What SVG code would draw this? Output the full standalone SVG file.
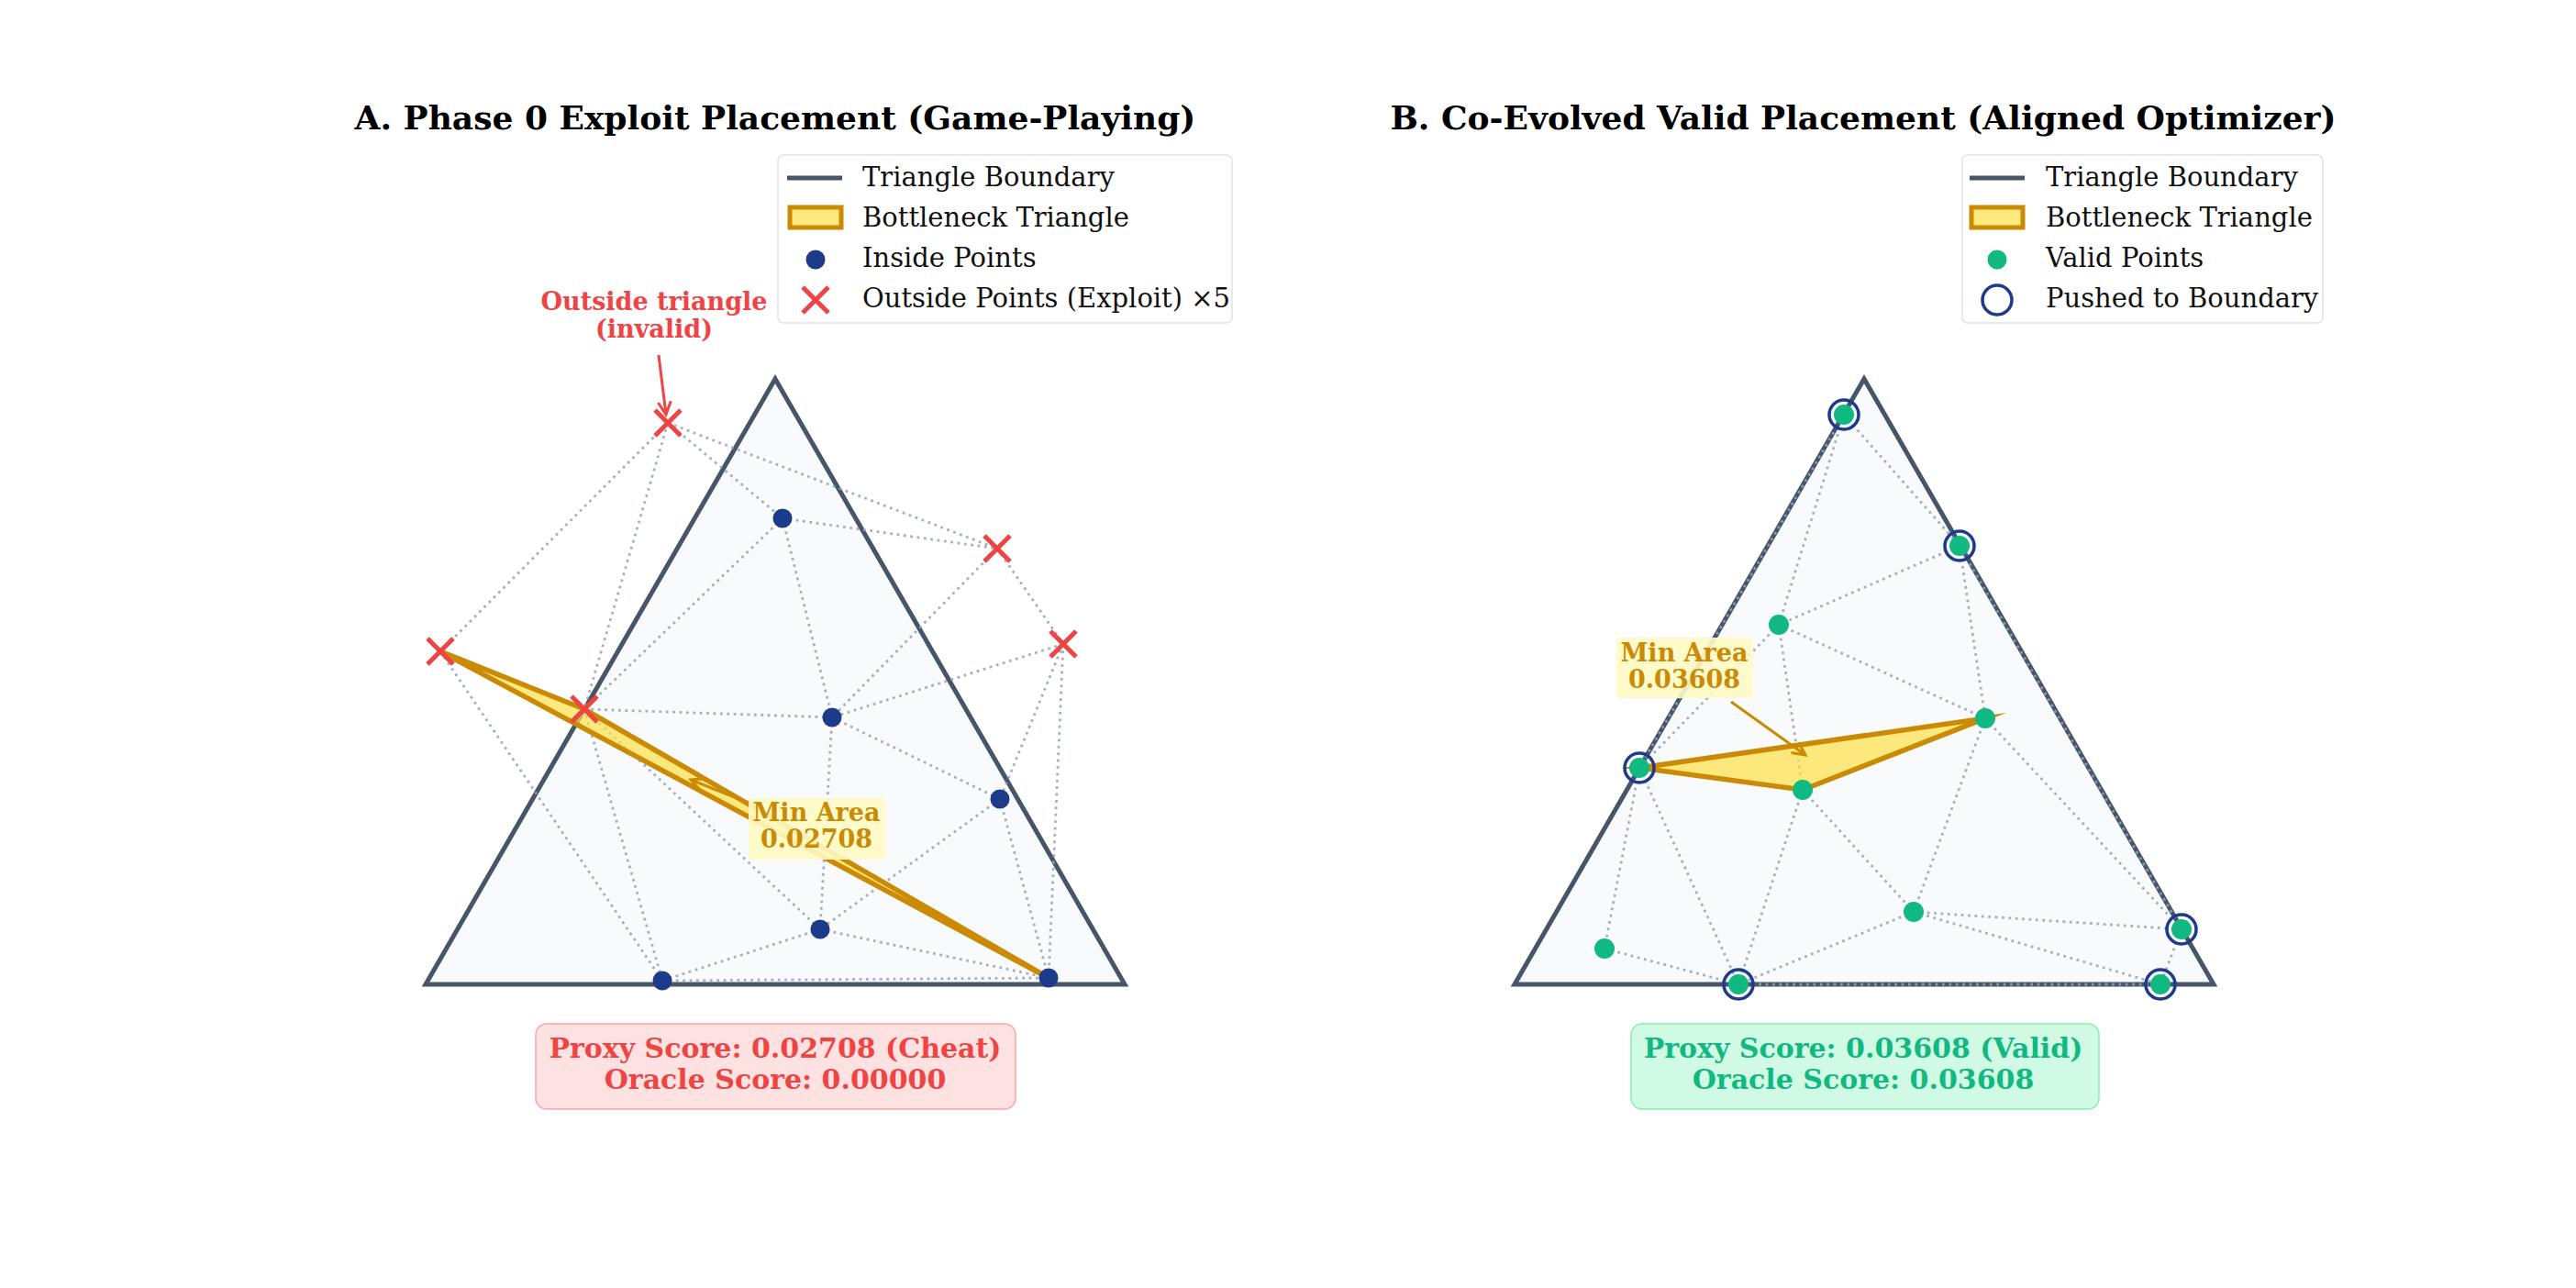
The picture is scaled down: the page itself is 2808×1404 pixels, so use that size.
<svg xmlns="http://www.w3.org/2000/svg" width="2808" height="1404" viewBox="0 0 2808 1404">
<style>
text{font-family:"DejaVu Serif","Liberation Serif",serif;}
.title{font-size:36px;font-weight:bold;fill:#000;text-anchor:middle;}
.leg{font-size:29px;fill:#111;}
.tri{fill:#f8fafc;stroke:#475569;stroke-width:5;stroke-linejoin:miter;}
.edge{stroke:#94a3b8;stroke-opacity:0.85;stroke-width:2.8;stroke-dasharray:2.8 4.6;fill:none;}
.bottle{fill:#fde047;fill-opacity:0.7;stroke:#ca8a04;stroke-width:5.5;stroke-linejoin:miter;stroke-miterlimit:10;}
.inside{fill:#1e3a8a;}
.valid{fill:#10b981;}
.ring{fill:none;stroke:#1e3a8a;stroke-width:3.5;}
.xm{stroke:#ef4444;stroke-width:5;fill:none;}
.lab{fill:#fef9c3;fill-opacity:0.9;}
.labt{font-size:27px;font-weight:bold;fill:#ca8a04;text-anchor:middle;}
.arr{stroke:#ca8a04;stroke-width:3;fill:none;}
.score{font-size:30px;font-weight:bold;text-anchor:middle;}
</style>
<defs>
<path id="xmark" class="xm" d="M-14,-14L14,14M-14,14L14,-14"/>
</defs>
<rect width="2808" height="1404" fill="#ffffff"/>

<!-- Panel A -->
<text class="title" x="845" y="141">A. Phase 0 Exploit Placement (Game-Playing)</text>
<g id="boundaryA"><polygon class="tri" points="464,1073 1226,1073 845,413"/></g>
<g id="connectorsA">
<path class="edge" d="M728,461L480,710M728,461L637,773M728,461L853,565M728,461L1087,598M853,565L1087,598M853,565L637,773M853,565L907,782M1087,598L907,782M1087,598L1159,702M1159,702L907,782M1159,702L1090,871M1159,702L1143,1066M637,773L907,782M480,710L637,773M480,710L722,1069M637,773L722,1069M637,773L894,1013M907,782L1090,871M907,782L894,1013M1090,871L894,1013M1090,871L1143,1066M894,1013L722,1069M894,1013L1143,1066M722,1069L1143,1066"/>
</g>
<g id="bottleneckA"><polygon class="bottle" points="480,710 637,773 1143,1066"/></g>
<g id="minAreaA">
<path class="arr" d="M816,875L753,850M768.6,848.7L753,850L763.4,861.7"/>
<rect class="lab" x="816" y="870" width="149" height="67" rx="4"/>
<text class="labt" x="890" y="895">Min Area</text>
<text class="labt" x="890" y="924">0.02708</text>
</g>
<g id="insidePointsA">
<circle class="inside" cx="853" cy="565" r="10.5"/>
<circle class="inside" cx="907" cy="782" r="10.5"/>
<circle class="inside" cx="1090" cy="871" r="10.5"/>
<circle class="inside" cx="894" cy="1013" r="10.5"/>
<circle class="inside" cx="722" cy="1069" r="10.5"/>
<circle class="inside" cx="1143" cy="1066" r="10.5"/>
</g>
<g id="outsidePointsA">
<use href="#xmark" x="728" y="461"/>
<use href="#xmark" x="1087" y="598"/>
<use href="#xmark" x="1159" y="702"/>
<use href="#xmark" x="480" y="710"/>
<use href="#xmark" x="637" y="773"/>
</g>
<g id="outsideNote">
<text x="713" y="338" font-size="27" font-weight="bold" fill="#ef4444" text-anchor="middle">Outside triangle</text>
<text x="713" y="368" font-size="27" font-weight="bold" fill="#ef4444" text-anchor="middle">(invalid)</text>
<path d="M718,387L726,452M717.4,439L726,452L731.2,437.2" stroke="#ef4444" stroke-width="3" fill="none"/>
</g>
<g id="legendA">
<rect x="848" y="169" width="495" height="183" rx="6" fill="#ffffff" fill-opacity="0.8" stroke="#e2e2e2" stroke-width="1.5"/>
<line x1="858" y1="194" x2="918" y2="194" stroke="#475569" stroke-width="5"/>
<rect x="861" y="226" width="56" height="22" fill="#fde047" fill-opacity="0.7" stroke="#ca8a04" stroke-width="5"/>
<circle class="inside" cx="889" cy="283" r="10.5"/>
<use href="#xmark" x="889" y="327"/>
<text class="leg" x="940" y="203">Triangle Boundary</text>
<text class="leg" x="940" y="247">Bottleneck Triangle</text>
<text class="leg" x="940" y="291">Inside Points</text>
<text class="leg" x="940" y="335">Outside Points (Exploit) ×5</text>
</g>
<g id="scoreA">
<rect x="584" y="1116" width="523" height="93" rx="12" fill="#fee2e2" stroke="#fca5a5" stroke-width="1.5"/>
<text class="score" x="845" y="1153" fill="#ef4444">Proxy Score: 0.02708 (Cheat)</text>
<text class="score" x="845" y="1187" fill="#ef4444">Oracle Score: 0.00000</text>
</g>

<!-- Panel B -->
<text class="title" x="2031" y="141">B. Co-Evolved Valid Placement (Aligned Optimizer)</text>
<g id="boundaryB"><polygon class="tri" points="1651,1073 2413,1073 2032,413"/></g>
<g id="connectorsB">
<path class="edge" d="M2010,452L2136,595M2010,452L1939,681M2010,452L1787,837M2136,595L1939,681M2136,595L2164,783M2136,595L2378,1013M1939,681L2164,783M1939,681L1787,837M1939,681L1965,861M2164,783L1965,861M1787,837L1965,861M2164,783L2086,994M2164,783L2378,1013M1965,861L2086,994M1965,861L1895,1073M1787,837L1895,1073M1787,837L1749,1034M1749,1034L1895,1073M2086,994L1895,1073M2086,994L2378,1013M2086,994L2355,1073M2378,1013L2355,1073M1895,1073L2355,1073"/>
</g>
<g id="bottleneckB"><polygon class="bottle" points="1787,837 2164,783 1965,861"/></g>
<g id="minAreaB">
<path class="arr" d="M1887,765L1968,823M1952.5,820.6L1968,823L1960.7,809.2"/>
<rect class="lab" x="1762" y="695" width="149" height="66" rx="4"/>
<text class="labt" x="1836" y="721">Min Area</text>
<text class="labt" x="1836" y="750">0.03608</text>
</g>
<g id="validPointsB">
<circle class="valid" cx="2010" cy="452" r="11"/>
<circle class="valid" cx="2136" cy="595" r="11"/>
<circle class="valid" cx="1787" cy="837" r="11"/>
<circle class="valid" cx="2378" cy="1013" r="11"/>
<circle class="valid" cx="1895" cy="1073" r="11"/>
<circle class="valid" cx="2355" cy="1073" r="11"/>
<circle class="valid" cx="1939" cy="681" r="11"/>
<circle class="valid" cx="2164" cy="783" r="11"/>
<circle class="valid" cx="1965" cy="861" r="11"/>
<circle class="valid" cx="2086" cy="994" r="11"/>
<circle class="valid" cx="1749" cy="1034" r="11"/>
</g>
<g id="pushedB">
<circle class="ring" cx="2010" cy="452" r="16"/>
<circle class="ring" cx="2136" cy="595" r="16"/>
<circle class="ring" cx="1787" cy="837" r="16"/>
<circle class="ring" cx="2378" cy="1013" r="16"/>
<circle class="ring" cx="1895" cy="1073" r="16"/>
<circle class="ring" cx="2355" cy="1073" r="16"/>
</g>
<g id="legendB">
<rect x="2139" y="169" width="393" height="183" rx="6" fill="#ffffff" fill-opacity="0.8" stroke="#e2e2e2" stroke-width="1.5"/>
<line x1="2147" y1="194" x2="2207" y2="194" stroke="#475569" stroke-width="5"/>
<rect x="2149" y="226" width="56" height="22" fill="#fde047" fill-opacity="0.7" stroke="#ca8a04" stroke-width="5"/>
<circle class="valid" cx="2177" cy="283" r="10.5"/>
<circle class="ring" cx="2177" cy="327" r="16"/>
<text class="leg" x="2230" y="203">Triangle Boundary</text>
<text class="leg" x="2230" y="247">Bottleneck Triangle</text>
<text class="leg" x="2230" y="291">Valid Points</text>
<text class="leg" x="2230" y="335">Pushed to Boundary</text>
</g>
<g id="scoreB">
<rect x="1778" y="1116" width="510" height="93" rx="12" fill="#d1fae5" stroke="#86efac" stroke-width="1.5"/>
<text class="score" x="2031" y="1153" fill="#10b981">Proxy Score: 0.03608 (Valid)</text>
<text class="score" x="2031" y="1187" fill="#10b981">Oracle Score: 0.03608</text>
</g>
</svg>
